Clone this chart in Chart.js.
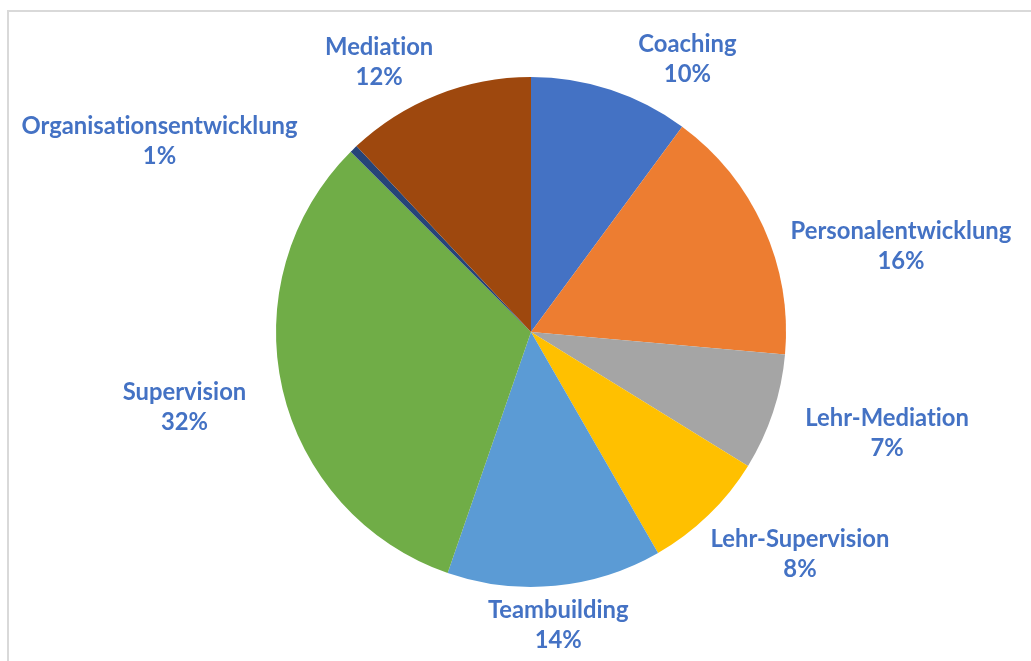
<!DOCTYPE html>
<html>
<head>
<meta charset="utf-8">
<script src="https://cdn.jsdelivr.net/npm/chart.js@4/dist/chart.umd.min.js"></script>
<style>
  html, body { margin: 0; padding: 0; background: #ffffff; }
  #wrap { width: 1031px; height: 661px; position: relative; }
</style>
</head>
<body>
<div id="wrap"><canvas id="c" width="1031" height="661"></canvas></div>
<script>
// Data (shares in percent, clockwise from 12 o'clock)
const categories = ["Coaching", "Personalentwicklung", "Lehr-Mediation", "Lehr-Supervision",
                    "Teambuilding", "Supervision", "Organisationsentwicklung", "Mediation"];
const shares = [10.1, 16.3, 7.4, 7.9, 13.6, 32.2, 0.5, 12.0];
const sliceColors = ["#4472C4", "#ED7D31", "#A5A5A5", "#FFC000",
                     "#5B9BD5", "#70AD47", "#264478", "#9E480E"];

// Label placement: angle (deg, clockwise from top) and distance in pie radii
const labelAngle = [29.8, 77.0, 105.9, 129.6, 174.7, 257.7, 297.2, 330.6];
const labelDist  = [1.234, 1.489, 1.452, 1.369, 1.154, 1.391, 1.638, 1.213];

const FONT = 'bold 23.8px Lato, "Open Sans", sans-serif';
const LABEL_COLOR = '#4472C4';

const frame = {
  id: 'frame',
  beforeDraw(chart) {
    const ctx = chart.ctx;
    ctx.save();
    ctx.fillStyle = '#ffffff';
    ctx.fillRect(0, 0, chart.width, chart.height);
    ctx.strokeStyle = '#D9D9D9';
    ctx.lineWidth = 2;
    ctx.strokeRect(8, 11, chart.width + 20, chart.height + 20);
    ctx.restore();
  }
};

const labels = {
  id: 'sliceLabels',
  afterDatasetsDraw(chart) {
    const ctx = chart.ctx;
    const meta = chart.getDatasetMeta(0);
    const total = shares.reduce((a, b) => a + b, 0);
    ctx.save();
    ctx.font = FONT;
    if ('textRendering' in ctx) ctx.textRendering = 'optimizeSpeed';
    ctx.fillStyle = LABEL_COLOR;
    ctx.textAlign = 'center';
    ctx.textBaseline = 'middle';
    meta.data.forEach((arc, i) => {
      const r = arc.outerRadius * labelDist[i];
      const a = labelAngle[i] * Math.PI / 180;
      const x = arc.x + r * Math.sin(a);
      const y = arc.y - r * Math.cos(a);
      const pct = Math.round(shares[i] / total * 100) + '%';
      ctx.fillText(categories[i], x, y - 15);
      ctx.fillText(pct, x, y + 15);
    });
    ctx.restore();
  }
};

new Chart(document.getElementById('c'), {
  type: 'pie',
  data: {
    labels: categories,
    datasets: [{
      data: shares,
      backgroundColor: sliceColors,
      borderWidth: 0
    }]
  },
  options: {
    responsive: false,
    animation: false,
    layout: { padding: { left: 276, right: 245, top: 77, bottom: 74 } },
    plugins: {
      legend: { display: false },
      tooltip: { enabled: false }
    }
  },
  plugins: [frame, labels]
});
</script>
</body>
</html>
